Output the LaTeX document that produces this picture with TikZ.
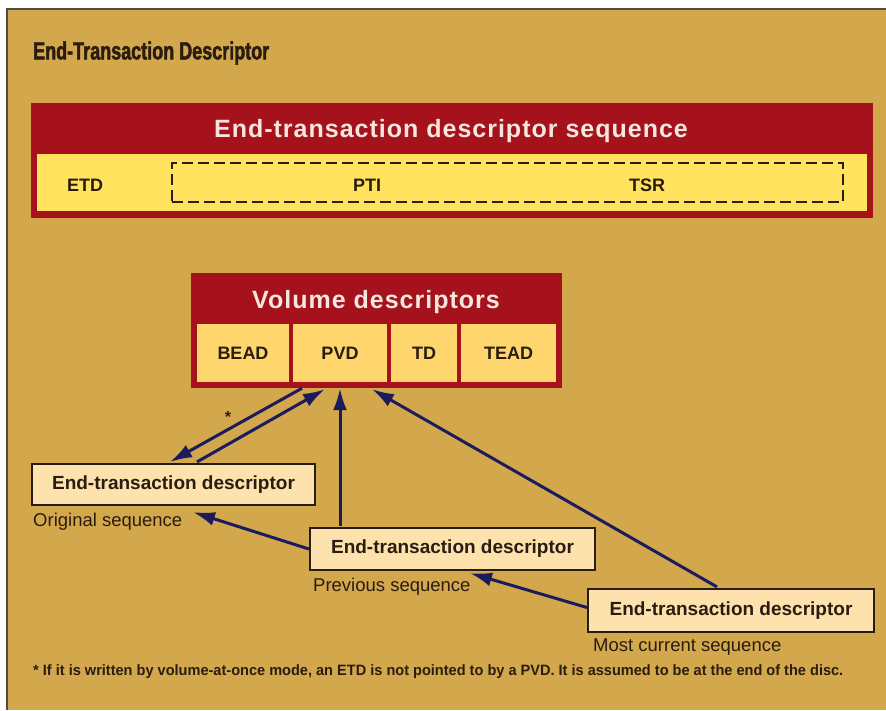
\documentclass[tikz,border=0pt]{standalone}
\usepackage{fontspec}
\setmainfont{Liberation Sans}
\newfontfamily\condfont[FakeStretch=0.72,FakeBold=1.8]{Liberation Sans}
\newfontfamily\notefont[FakeStretch=0.97]{Liberation Sans}
\newfontfamily\widefont[LetterSpace=4]{Liberation Sans}
\definecolor{bgtan}{HTML}{D3A74C}
\definecolor{hdred}{HTML}{A5121C}
\definecolor{stripy}{HTML}{FFE35E}
\definecolor{celly}{HTML}{FFD66E}
\definecolor{etdfill}{HTML}{FDE2AE}
\definecolor{navy}{HTML}{1B1B5E}
\definecolor{ink}{HTML}{2A1C10}
\definecolor{paleink}{HTML}{F6E6E0}
\usetikzlibrary{calc, positioning, arrows.meta}

\begin{document}
\begin{tikzpicture}[x=1pt, y=-1pt,
  redbox/.style={draw=hdred, fill=hdred, minimum width=#1, inner sep=0pt},
  hdtext/.style={font=\fontsize{25}{27}\selectfont\widefont\bfseries, text=paleink},
  strip/.style={fill=stripy, minimum height=57pt, minimum width=830pt, inner sep=0pt},
  cell/.style={fill=celly, minimum height=58pt, minimum width=#1, inner sep=0pt,
               font=\fontsize{18}{20}\selectfont\bfseries, text=ink},
  field/.style={font=\fontsize{18}{20}\selectfont\bfseries, text=ink},
  etdbox/.style={draw=ink, line width=2.2pt, fill=etdfill, minimum width=283pt,
                 minimum height=41pt, inner sep=0pt,
                 font=\fontsize{19}{21}\selectfont\bfseries, text=ink},
  seqlabel/.style={anchor=west, inner sep=0pt, font=\fontsize{18.5}{20}\selectfont, text=ink},
  ptr/.style={draw=navy, line width=3pt, -{Latex[length=22pt,width=14pt]}},
]
\useasboundingbox (0,0) rectangle (886,710);
\fill[bgtan] (7,9) rectangle (886,710);
\draw[ink!80, line width=1.5pt] (886,9) -- (7,9) -- (7,710);

\node[font=\fontsize{25}{27}\selectfont\condfont\bfseries, text=ink,
      anchor=west, inner sep=0pt] (title) at (33,53) {End-Transaction Descriptor};

% end-transaction descriptor sequence
\node[redbox=841pt, minimum height=114pt] (seq) at (451.5,160) {};
\node[hdtext] (seqtitle) at (451,131) {End-transaction descriptor sequence};
\node[strip] (seqstrip) at (452,182.5) {};
\node[draw=ink, line width=2.8pt, dash pattern=on 11pt off 5pt,
      minimum width=671pt, minimum height=39pt, inner sep=0pt] (extra) at (507.5,182.5) {};
\node[field] (etd) at (85,185) {ETD};
\node[field] (pti) at (367,185) {PTI};
\node[field] (tsr) at (647,185) {TSR};

% volume descriptors
\node[redbox=370pt, minimum height=114pt] (vd) at (376,330) {};
\node[hdtext] (vdtitle) at (376,302) {Volume descriptors};
\node[cell=92pt] (bead) at (243,353) {BEAD};
\node[cell=94pt] (pvd) at (340,353) {PVD};
\node[cell=66pt] (td) at (424,353) {TD};
\node[cell=95pt] (tead) at (508.5,353) {TEAD};

% the three end-transaction descriptors
\node[etdbox] (etd1) at (173.5,484.5) {End-transaction descriptor};
\node[seqlabel] (orig) at (33,522) {Original sequence};
\node[etdbox, minimum width=285pt, minimum height=42pt] (etd2) at (452.5,549) {End-transaction descriptor};
\node[seqlabel] (prev) at (313,587) {Previous sequence};
\node[etdbox, minimum width=286pt, minimum height=43pt] (etd3) at (731,610.5) {End-transaction descriptor};
\node[seqlabel] (curr) at (593,647) {Most current sequence};

\coordinate (pvdA) at ($(vd.south)+(-74,1)$);
\coordinate (pvdB) at ($(vd.south)+(-51,2)$);
\coordinate (pvdC) at ($(vd.south)+(-36,1)$);
\coordinate (pvdD) at ($(vd.south)+(-4,2)$);
\coordinate (etd1A) at ($(etd1.north)+(-3.5,-1)$);
\coordinate (etd1B) at ($(etd1.north)+(23.5,-1)$);
\coordinate (etd1C) at ($(etd1.south)+(19.5,6)$);
\coordinate (etd2A) at ($(etd2.north)+(-112.5,-1)$);
\coordinate (etd2B) at ($(etd2.west)+(0,0)$);
\coordinate (etd2C) at ($(etd2.south)+(17.5,2)$);
\coordinate (etd3A) at ($(etd3.north)+(-14,-1)$);
\coordinate (etd3B) at ($(etd3.west)+(0,-3)$);

\draw[ptr] (pvdA) -- (etd1A);
\draw[ptr] (etd1B) -- (pvdB);
\draw[ptr] (etd2A) -- (pvdC);
\draw[ptr] (etd3A) -- (pvdD);
\draw[ptr] (etd2B) -- (etd1C);
\draw[ptr] (etd3B) -- (etd2C);
\node[text=ink, font=\fontsize{16}{18}\selectfont\bfseries, inner sep=0pt] (star) at (228,417) {*};

\node[anchor=west, inner sep=0pt, text=ink,
      font=\fontsize{15}{17}\selectfont\notefont\bfseries] (note) at (33,672)
  {* If it is written by volume-at-once mode, an ETD is not pointed to by a PVD. It is assumed to be at the end of the disc.};
\end{tikzpicture}
\end{document}
